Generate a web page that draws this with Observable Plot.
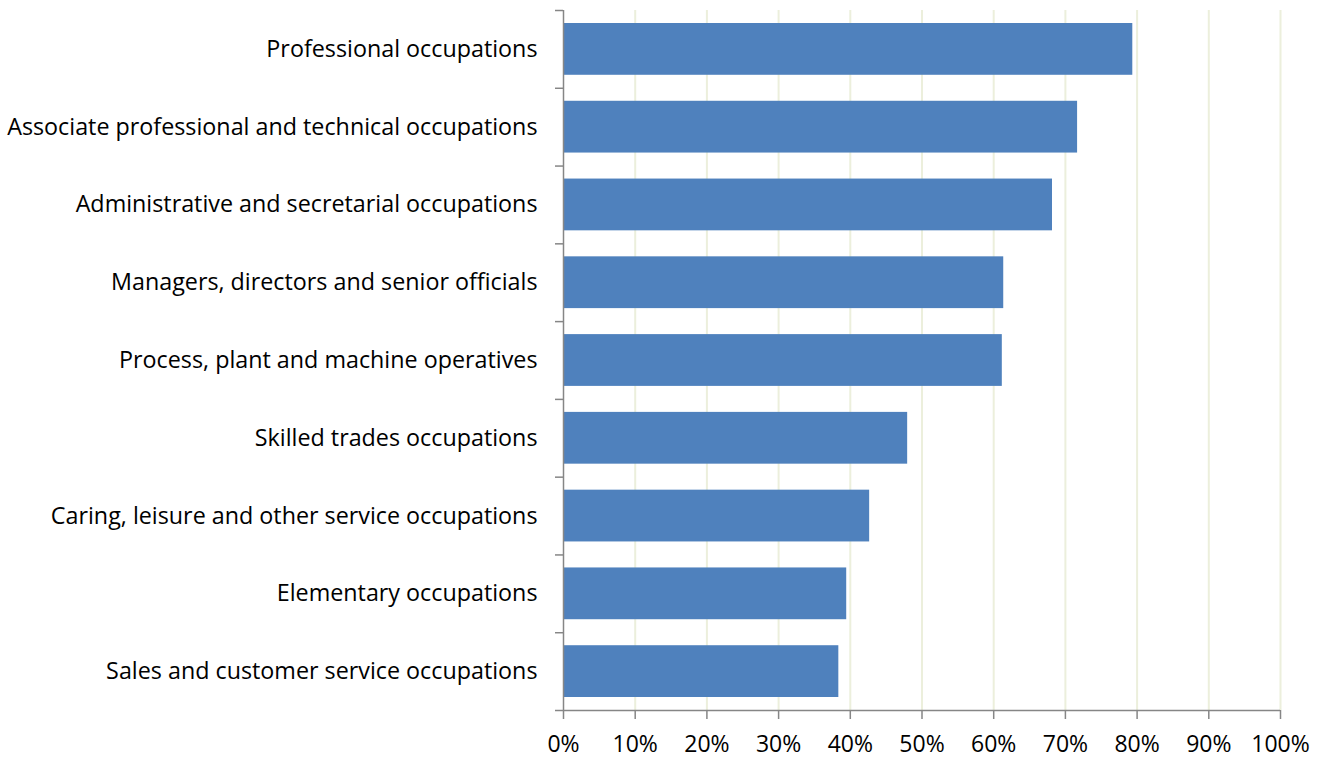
<!DOCTYPE html>
<html>
<head>
<meta charset="utf-8">
<script src="https://cdn.jsdelivr.net/npm/d3@7"></script>
<script src="https://cdn.jsdelivr.net/npm/@observablehq/plot@0.6"></script>
<style>
  html, body { margin: 0; padding: 0; background: #fff; }
  #chart svg { display: block; }
</style>
</head>
<body>
<div id="chart"></div>
<script>
const categories = [
  "Professional occupations",
  "Associate professional and technical occupations",
  "Administrative and secretarial occupations",
  "Managers, directors and senior officials",
  "Process, plant and machine operatives",
  "Skilled trades occupations",
  "Caring, leisure and other service occupations",
  "Elementary occupations",
  "Sales and customer service occupations"
];
const values = [79.4, 71.7, 68.2, 61.4, 61.2, 48.0, 42.7, 39.5, 38.4];
const xTicks = [0, 10, 20, 30, 40, 50, 60, 70, 80, 90, 100];

const data = categories.map((c, i) => ({category: c, value: values[i]}));

const W = 1327, H = 758;
const mTop = 10, mBottom = 48, mLeft = 563, mRight = 47;
const band = (H - mTop - mBottom) / categories.length;
const pxPerUnit = (W - mLeft - mRight) / 100;
const axisColor = "#868686";
const font = "'Open Sans', sans-serif";

const chart = Plot.plot({
  width: W,
  height: H,
  marginTop: mTop,
  marginBottom: mBottom,
  marginLeft: mLeft,
  marginRight: mRight,
  style: {fontFamily: font, fontSize: "23px", color: "#000", background: "#fff"},
  x: {domain: [0, 100], ticks: xTicks},
  y: {domain: categories, padding: 0, round: false},
  marks: [
    Plot.ruleX(xTicks.filter(d => d > 0), {stroke: "#ecefdc", strokeWidth: 2}),
    Plot.barX(data, {y: "category", x: "value", fill: "#4f81bd", insetTop: 13, insetBottom: 13}),
    // category boundary ticks on the y axis
    Plot.ruleY(categories, {y: d => d, x1: 0, x2: -8 / pxPerUnit, dy: -band / 2, stroke: axisColor, strokeWidth: 1.5}),
    Plot.ruleY([categories[categories.length - 1]], {y: d => d, x1: -8 / pxPerUnit, x2: 0, dy: band / 2, stroke: axisColor, strokeWidth: 1.5}),
    // axis lines
    Plot.ruleX([0], {stroke: axisColor, strokeWidth: 1.5}),
    Plot.ruleY([categories[categories.length - 1]], {y: d => d, x1: 0, x2: 100, dy: band / 2, stroke: axisColor, strokeWidth: 1.5}),
    Plot.axisX({ticks: xTicks, tickFormat: d => d + "%", tickSize: 9, tickPadding: 16, stroke: axisColor, strokeWidth: 1.5, fontSize: 23, fill: "#000", anchor: "bottom", label: null}),
    Plot.axisY({tickSize: 0, tickPadding: 26, dy: 0, fontSize: 23.3, fill: "#000", label: null})
  ]
});

document.getElementById("chart").appendChild(chart);
</script>
</body>
</html>
